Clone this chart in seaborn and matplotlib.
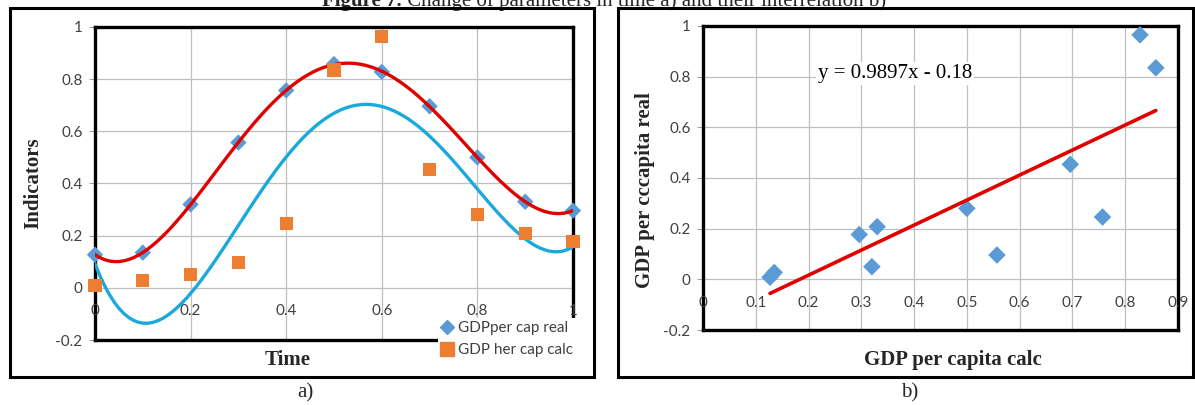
import numpy as np
import pandas as pd
import matplotlib
matplotlib.use("Agg")
import matplotlib.pyplot as plt
import seaborn as sns
from matplotlib.lines import Line2D
from matplotlib.patches import Rectangle

time = [0.0, 0.1, 0.2, 0.3, 0.4, 0.5, 0.6, 0.7, 0.8, 0.9, 1.0]
gdp_real = [0.127, 0.135, 0.320, 0.557, 0.757, 0.858, 0.828, 0.696, 0.500, 0.330, 0.296]
gdp_calc = [0.008, 0.027, 0.050, 0.096, 0.246, 0.835, 0.965, 0.454, 0.280, 0.208, 0.177]

y_ticks = [-0.2, 0, 0.2, 0.4, 0.6, 0.8, 1]
y_tick_labels = ["-0.2", "0", "0.2", "0.4", "0.6", "0.8", "1"]
x_ticks_a = [0, 0.2, 0.4, 0.6, 0.8, 1]
x_tick_labels_a = ["0", "0.2", "0.4", "0.6", "0.8", "1"]
x_ticks_b = [0, 0.1, 0.2, 0.3, 0.4, 0.5, 0.6, 0.7, 0.8, 0.9]
x_tick_labels_b = ["0", "0.1", "0.2", "0.3", "0.4", "0.5", "0.6", "0.7", "0.8", "0.9"]
legend_labels = ["GDPper cap real", "GDP her cap calc"]
equation = "y = 0.9897x - 0.18"
title_bold = "Figure 7."
title_rest = " Change of parameters in time a) and their interrelation b)"

df = pd.DataFrame({"time": time, "real": gdp_real, "calc": gdp_calc})

sns.set_style("white")
plt.rcParams['font.family'] = ['Lato', 'DejaVu Sans']
SERIF = ['Liberation Serif', 'DejaVu Serif']

BLUE = "#5B9BD5"
ORANGE = "#ED7D31"
RED = "#E00000"
CYAN = "#1BA9DC"
GRID = "#BFBFBF"
TXT = "#404040"

W, H = 1195, 405
fig = plt.figure(figsize=(W / 100, H / 100), dpi=100)


def rect(l, t, r, b):
    return [l / W, 1 - b / H, (r - l) / W, (b - t) / H]


axa = fig.add_axes(rect(95, 27, 573, 340))
axb = fig.add_axes(rect(703, 26, 1178, 330))

# ---------- panel a ----------
sns.scatterplot(data=df, x="time", y="real", ax=axa, marker="D", s=70, color=BLUE,
                edgecolor="none", zorder=2.6, clip_on=False, legend=False)
sns.regplot(data=df, x="time", y="real", ax=axa, order=6, ci=None, scatter=False,
            truncate=True, line_kws=dict(color=RED, lw=2.4, zorder=2.7))
sns.regplot(data=df, x="time", y="calc", ax=axa, order=4, ci=None, scatter=False,
            truncate=True, line_kws=dict(color=CYAN, lw=2.4, zorder=2.7))
sns.scatterplot(data=df, x="time", y="calc", ax=axa, marker="s", s=90, color=ORANGE,
                edgecolor="none", zorder=2.8, clip_on=False, legend=False)

axa.set_xlim(0, 1)
axa.set_ylim(-0.2, 1)

# ---------- panel b ----------
sns.scatterplot(data=df, x="real", y="calc", ax=axb, marker="D", s=80, color=BLUE,
                edgecolor="none", zorder=2.6, clip_on=False, legend=False)
sns.regplot(data=df, x="real", y="calc", ax=axb, order=1, ci=None, scatter=False,
            truncate=True, line_kws=dict(color=RED, lw=2.6, zorder=2.7))
axb.set_xlim(0, 0.9)
axb.set_ylim(-0.2, 1)
axb.text(0.218, 0.814, equation, family=SERIF, fontsize=15, color="black",
         ha="left", va="center", zorder=4,
         bbox=dict(facecolor="white", edgecolor="none", pad=1.5))

for ax, xt, xl, ylab_y in [(axa, x_ticks_a, x_tick_labels_a, -0.088),
                           (axb, x_ticks_b, x_tick_labels_b, -0.095)]:
    ax.set_xticks(xt)
    ax.set_xticklabels([])
    ax.set_yticks(y_ticks)
    ax.set_yticklabels(y_tick_labels)
    ax.tick_params(axis="y", length=4, width=0.8, color="#A0A0A0", pad=5,
                   labelsize=11, labelcolor=TXT, left=True)
    ax.tick_params(axis="x", length=0)
    ax.grid(True, color=GRID, lw=0.9)
    ax.set_axisbelow(True)
    for s in ax.spines.values():
        s.set_visible(True)
        s.set_color("black")
        s.set_linewidth(2.4)
    for v, lab in zip(xt, xl):
        ax.text(v, ylab_y, lab, ha="center", va="center", fontsize=11, color=TXT, zorder=3)
    ax.set_xlabel("")
    ax.set_ylabel("")

# axis titles
fig.text(33 / W, 1 - 183 / H, "Indicators", family=SERIF, weight="bold", fontsize=15,
         rotation=90, ha="center", va="center")
fig.text(288 / W, 1 - 360 / H, "Time", family=SERIF, weight="bold", fontsize=15,
         ha="center", va="center")
fig.text(645 / W, 1 - 190 / H, "GDP per cccapita real", family=SERIF, weight="bold",
         fontsize=15, rotation=90, ha="center", va="center")
fig.text(953 / W, 1 - 360 / H, "GDP per capita calc", family=SERIF, weight="bold",
         fontsize=15, ha="center", va="center")
fig.text(305 / W, 1 - 393 / H, "a)", family=SERIF, fontsize=15, ha="center", va="center")
fig.text(910 / W, 1 - 393 / H, "b)", family=SERIF, fontsize=15, ha="center", va="center")

# legend
handles = [Line2D([], [], marker="D", ls="none", color=BLUE, markersize=7),
           Line2D([], [], marker="s", ls="none", color=ORANGE, markersize=10)]
leg = axa.legend(handles, legend_labels, loc="upper left",
                 bbox_to_anchor=(438 / W, 1 - 318 / H), bbox_transform=fig.transFigure,
                 frameon=True, facecolor="white", edgecolor="none", framealpha=1,
                 fancybox=False, fontsize=11, handlelength=0.8, handletextpad=0.3,
                 labelspacing=0.55, borderpad=0.2, borderaxespad=0)
for t in leg.get_texts():
    t.set_color(TXT)

# outer frames
fig.add_artist(Rectangle((10 / W, 1 - 377 / H), (594 - 10) / W, (377 - 8) / H,
                         transform=fig.transFigure, fill=False, lw=2.2, ec="black", zorder=10))
fig.add_artist(Rectangle((618 / W, 1 - 377 / H), (1193 - 618) / W, (377 - 8) / H,
                         transform=fig.transFigure, fill=False, lw=2.2, ec="black", zorder=10))

# title (clipped at the top edge, as in the reference)
fig.text(402 / W, 1 - 6 / H, title_bold, family=SERIF, weight="bold", fontsize=15,
         ha="right", va="baseline")
fig.text(402 / W, 1 - 6 / H, title_rest, family=SERIF, fontsize=15,
         ha="left", va="baseline")

fig.savefig("out.png", dpi=100)
